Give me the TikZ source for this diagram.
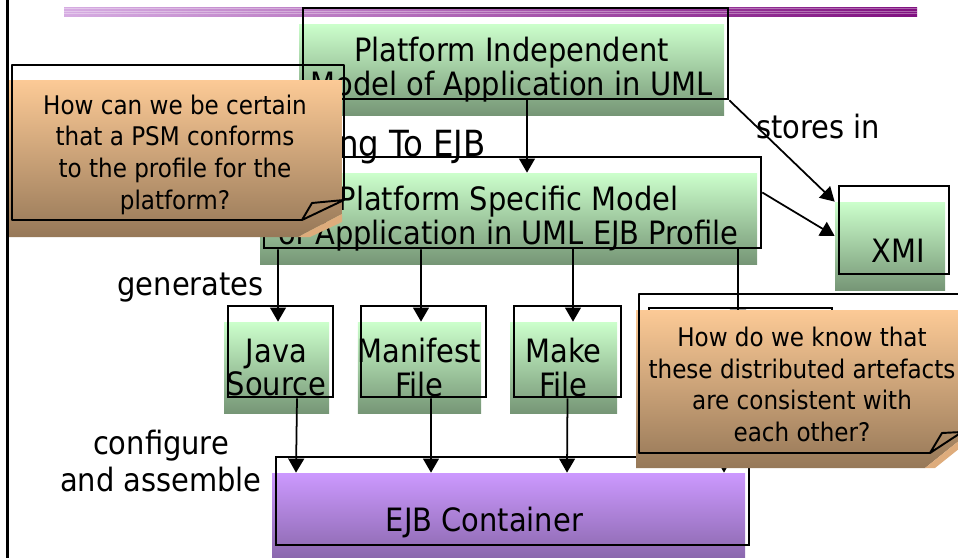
\documentclass[tikz,border=0pt]{standalone}
\usepackage{fontspec}
\setmainfont{DejaVu Sans Condensed}
\usetikzlibrary{arrows.meta,fit}
\newdimen\px
\px=0.02cm
\newcommand{\boxfont}{\fontsize{18.3}{19.3}\selectfont}
\newcommand{\notefont}{\fontsize{14.6}{18}\selectfont}
\definecolor{boxtop}{RGB}{204,255,204}
\definecolor{boxbot}{RGB}{118,150,118}
\definecolor{ejbtop}{RGB}{204,153,255}
\definecolor{ejbbot}{RGB}{136,102,170}
\definecolor{notetop}{RGB}{252,202,150}
\definecolor{notebot}{RGB}{150,120,88}
\definecolor{curl}{RGB}{222,172,124}
\definecolor{barleft}{RGB}{214,172,226}
\definecolor{barright}{RGB}{128,16,128}
\tikzset{
    dims/.style 2 args={minimum width=#1\px,minimum height=#2\px},
    box/.style={top color=boxtop,bottom color=boxbot,inner sep=0pt,align=center,font=\boxfont},
    boxframe/.style={draw,line width=1.1pt,inner sep=0pt,fit=#1,shift={(4,-16)}},
    conn/.style={line width=1pt,-{Triangle[width=9pt,length=8pt]}},
    tag/.style={inner sep=0pt,font=\boxfont},
    note/.style={top color=notetop,bottom color=notebot},
    noteline/.style={line width=1.1pt,line join=round},
    notetext/.style={align=center,font=\notefont}
}

\begin{document}
\begin{tikzpicture}[x=0.02cm,y=-0.02cm]
            \useasboundingbox (0,0) rectangle (958,558);
            \path[left color=barleft,right color=barright] (64,7) rectangle (917,16);
            \foreach \y in {8.5,11,13.5}
                \draw[white,opacity=0.35,line width=0.4pt] (64,\y) -- (917,\y);

            \node[box,dims={425}{91}] (pim) at (511.5,69.5) {Platform Independent\\Model of Application in UML};
            \node[box,dims={497}{91}] (psm) at (508.5,218.5) {Platform Specific Model\\of Application in UML EJB Profile};
            \node[box,dims={110}{88}] (xmi) at (890,246) {};
            \node[tag] (xminame) at ([shift={(8,5)}]xmi.center) {XMI};
            \node[box,dims={105}{91}] (java) at (276.5,367.5) {Java\\Source};
            \node[box,dims={123}{91}] (manifest) at (419.5,367.5) {Manifest\\File};
            \node[box,dims={107}{91}] (make) at (563.5,367.5) {Make\\File};
            \node[box,dims={183}{91}] (artefact) at (736.5,369.5) {};
            \node[box,dims={473}{88},top color=ejbtop,bottom color=ejbbot] (ejb) at (508.5,517) {};
            \node[tag] (ejbname) at ([shift={(-24,5)}]ejb.center) {EJB Container};

            \node[boxframe=(pim)] (pimf) {};
            \node[boxframe=(psm)] (psmf) {};
            \node[boxframe=(xmi)] (xmif) {};
            \node[boxframe=(java)] (javaf) {};
            \node[boxframe=(manifest)] (manifestf) {};
            \node[boxframe=(make)] (makef) {};
            \node[boxframe=(artefact)] (artefactf) {};
            \node[boxframe=(ejb)] (ejbf) {};

            \draw[conn] ([shift={(11.5,0)}]pimf.south) -- ([shift={(18.5,0)}]psm.north);
            \draw[conn] (pimf.south east) -- (xmi.north west);
            \draw[conn] ([shift={(0,-10)}]psmf.east) -- ([shift={(0,-10)}]xmi.west);
            \draw[conn] ([shift={(-234.5,0)}]psmf.south) -- ([shift={(1.5,0)}]java.north);
            \draw[conn] ([shift={(-91.5,0)}]psmf.south) -- ([shift={(1.5,0)}]manifest.north);
            \draw[conn] ([shift={(60.5,0)}]psmf.south) -- ([shift={(9.5,0)}]make.north);
            \draw[conn] ([shift={(225.5,0)}]psmf.south) -- ([shift={(1.5,0)}]artefact.north);
            \draw[conn] ([shift={(16.5,0)}]javaf.south) -- ([shift={(-212.5,0)}]ejb.north);
            \draw[conn] ([shift={(7.5,0)}]manifestf.south) -- ([shift={(-77.5,0)}]ejb.north);
            \draw[conn] (makef.south) -- ([shift={(58.5,0)}]ejb.north);
            \draw[conn] ([shift={(-16.5,0)}]artefactf.south) -- ([shift={(215.5,0)}]ejb.north);

            \node[tag] (stores) at (818,127) {stores in};
            \node[tag,anchor=east,font=\fontsize{20.5}{21}\selectfont] (mapping) at (486,147) {ng To EJB};
            \node[tag,anchor=east] (generates) at (264,288) {generates};
            \node[tag,align=center,font=\fontsize{18.3}{21.5}\selectfont] (assemble) at (161,461) {configure\\and assemble};

            \path[note] (8,80) -- (342,80) -- (342,214) -- (298,237) -- (8,237) -- cycle;
            \fill[curl] (298,237) -- (342,214) -- (342,222) -- (310,237) -- cycle;
            \draw[noteline] (302,220) -- (12,220) -- (12,65) -- (344,65) -- (344,200);
            \draw[noteline] (302,220) -- (312,203) -- (344,200) -- cycle;
            \node[notetext] (psmnote) at (175,154.5) {How can we be certain\\that a PSM conforms\\to the profile for the\\platform?};

            \path[note] (636,310) -- (970,310) -- (970,432) -- (925,468) -- (636,468) -- cycle;
            \fill[curl] (925,468) -- (970,432) -- (970,440) -- (935,468) -- cycle;
            \draw[noteline] (930,453) -- (639,453) -- (639,294) -- (962,294) -- (962,432);
            \draw[noteline] (930,453) -- (942,433) -- (962,432) -- cycle;
            \node[notetext] (artnote) at (802,384.5) {How do we know that\\these distributed artefacts\\are consistent with\\each other?};

            \draw[line width=1.2pt] (7.5,0) -- (7.5,558);
\end{tikzpicture}
\end{document}
